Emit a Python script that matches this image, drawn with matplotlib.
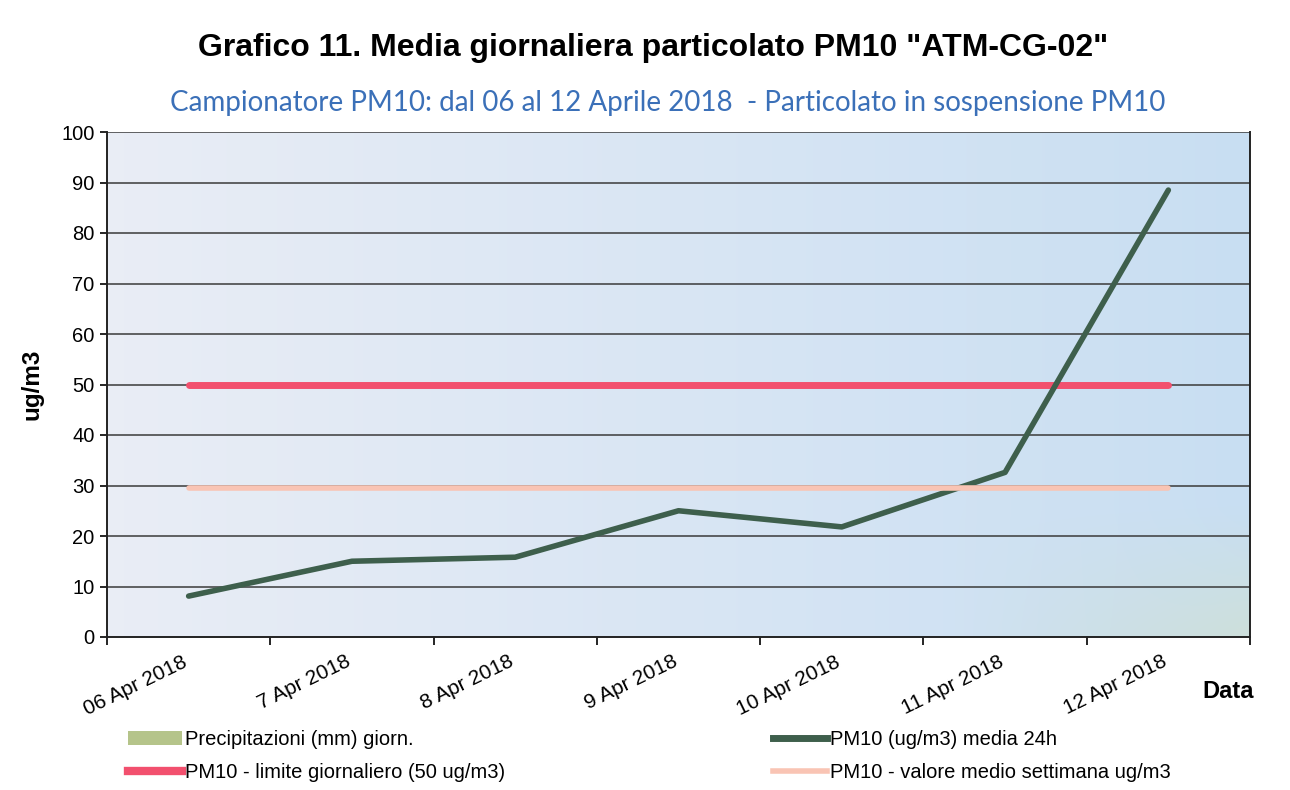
import matplotlib
matplotlib.use("Agg")
import matplotlib.pyplot as plt
import numpy as np
from matplotlib.lines import Line2D
from matplotlib.patches import Patch

# ---- data ----
dates = ["06 Apr 2018", "7 Apr 2018", "8 Apr 2018", "9 Apr 2018",
         "10 Apr 2018", "11 Apr 2018", "12 Apr 2018"]
pm10 = [8.1, 15.0, 15.8, 25.0, 21.8, 32.6, 88.5]
precipitazioni = [0, 0, 0, 0, 0, 0, 0]
limite = [50, 50, 50, 50, 50, 50, 50]
media_settimana = [29.6, 29.6, 29.6, 29.6, 29.6, 29.6, 29.6]
yticks = [0, 10, 20, 30, 40, 50, 60, 70, 80, 90, 100]

title = 'Grafico 11. Media giornaliera particolato PM10 "ATM-CG-02"'
subtitle = "Campionatore PM10: dal 06 al 12 Aprile 2018  - Particolato in sospensione PM10"

SANS = ["Liberation Sans", "DejaVu Sans"]
plt.rcParams["font.family"] = SANS

fig = plt.figure(figsize=(12.9, 7.9), dpi=100)
ax = fig.add_axes([107/1290, 1-637/790, (1250-107)/1290, (637-132)/790])

x = np.arange(len(dates))
ax.set_xlim(-0.5, len(dates)-0.5)
ax.set_ylim(0, 100)

# gradient background
ny, nx = 50, 100
gx = np.linspace(0, 1, nx)[None, :]
gy = np.linspace(0, 1, ny)[:, None]
c_left = np.array([0.915, 0.930, 0.962])
c_right = np.array([0.785, 0.872, 0.950])
c_green = np.array([0.805, 0.878, 0.862])
img = c_left[None, None, :] * (1-gx[..., None]) + c_right[None, None, :] * gx[..., None]
w = np.clip((gx - 0.75) / 0.25, 0, 1) * np.clip((gy - 0.75) / 0.25, 0, 1)
img = img * (1 - w[..., None]) + c_green[None, None, :] * w[..., None]
ax.imshow(img, extent=[-0.5, len(dates)-0.5, 0, 100], origin="upper",
          aspect="auto", zorder=0, interpolation="bicubic")

# grid
for v in yticks[1:]:
    ax.axhline(v, color="#3a3a3a", lw=1.1, zorder=1)

ax.bar(x, precipitazioni, width=0.6, color="#b5c48a", zorder=2)
ax.plot(x, limite, color="#f2506e", lw=5.0, solid_capstyle="round", zorder=3)
ax.plot(x, pm10, color="#3e5f4c", lw=4.0, solid_capstyle="round", zorder=4)
ax.plot(x, media_settimana, color="#f9c4b4", lw=4.0, solid_capstyle="round", zorder=5)

ax.set_yticks(yticks)
ax.set_yticklabels([str(v) for v in yticks], fontsize=14.5)
ax.tick_params(axis="y", length=5, width=1.2, direction="out", pad=4)
ax.set_xticks(np.arange(-0.5, len(dates), 1.0))
ax.set_xticklabels([])
ax.tick_params(axis="x", length=6, width=1.2, direction="out")
for s in ["left", "bottom", "right"]:
    ax.spines[s].set_linewidth(1.4)
    ax.spines[s].set_color("#222222")
ax.spines["top"].set_visible(False)

for i, d in enumerate(dates):
    ax.text(i - 0.04, -3.0, d, rotation=26, ha="right", va="top",
            rotation_mode="anchor", fontsize=15)

fig.text(32/1290, 1-384/790, "ug/m3", fontsize=17.5, fontweight="bold",
         rotation=90, ha="center", va="center")
fig.text(1228/1290, 1-691/790, "Data", fontsize=17, fontweight="bold",
         ha="center", va="center")

fig.text(653/1290, 1-48/790, title, fontsize=23, fontweight="bold",
         ha="center", va="center")
fig.text(668/1290, 1-103/790, subtitle, fontsize=20, color="#3b70b8",
         ha="center", va="center", family=["Lato", "DejaVu Sans"])

h1 = [Patch(facecolor="#b5c48a", edgecolor="none"),
      Line2D([], [], color="#f2506e", lw=6)]
l1 = ["Precipitazioni (mm) giorn.", "PM10 - limite giornaliero (50 ug/m3)"]
h2 = [Line2D([], [], color="#3e5f4c", lw=5),
      Line2D([], [], color="#f9c4b4", lw=4)]
l2 = ["PM10 (ug/m3) media 24h", "PM10 - valore medio settimana ug/m3"]
leg_kw = dict(frameon=False, loc="upper left", handlelength=2.7,
              handletextpad=0.15, labelspacing=0.7, borderaxespad=0,
              prop={"size": 14.5})
fig.legend(h1, l1, bbox_to_anchor=(120/1290, 1-722/790), **leg_kw)
fig.legend(h2, l2, bbox_to_anchor=(765/1290, 1-722/790), **leg_kw)

fig.savefig("out.png", dpi=100)
